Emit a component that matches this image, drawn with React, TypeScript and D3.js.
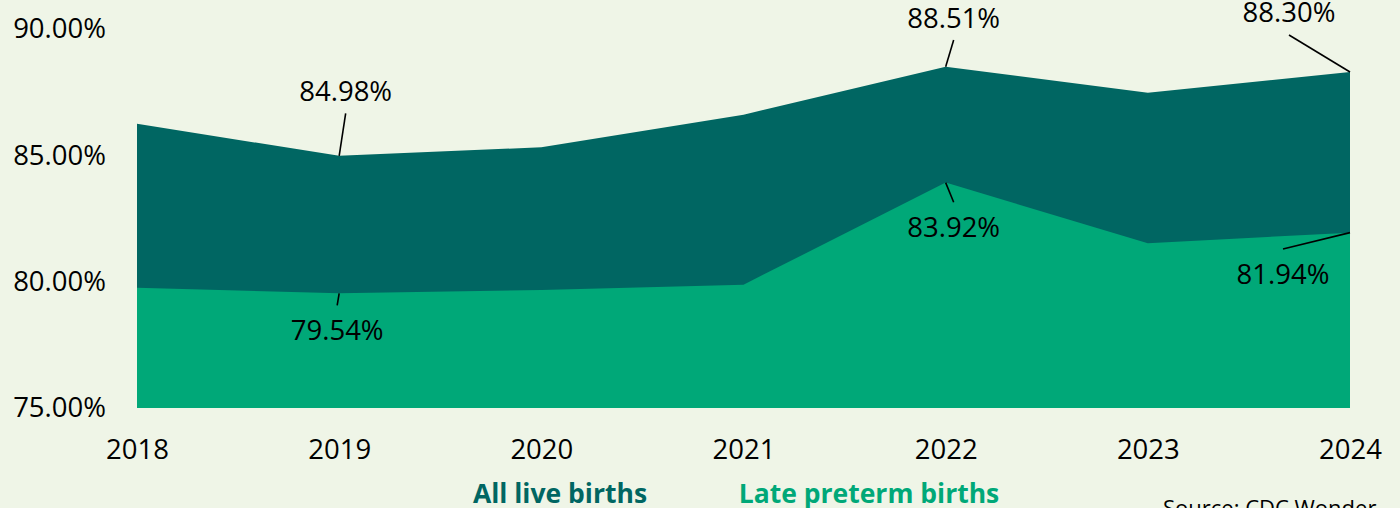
import { useEffect, useRef } from 'react';
import { select, scaleLinear, scalePoint, area, axisLeft, axisBottom, format } from 'd3';

const years = ['2018', '2019', '2020', '2021', '2022', '2023', '2024'];
const allLiveBirths = [86.25, 84.98, 85.32, 86.61, 88.51, 87.48, 88.3];
const latePretermBirths = [79.76, 79.54, 79.67, 79.88, 83.92, 81.52, 81.94];
const yTicks = [75, 80, 85, 90];

// which points get a data label, and where the leader line ends (offset from the point)
const labelSpots = [
  { series: 'all', index: 1, dx: 6.5, dy: -42.5, side: 'above' },
  { series: 'late', index: 1, dx: -2, dy: 12, side: 'below' },
  { series: 'all', index: 4, dx: 8, dy: -26.6, side: 'above' },
  { series: 'late', index: 4, dx: 8, dy: 19.7, side: 'below' },
  { series: 'all', index: 6, dx: -61, dy: -37, side: 'above' },
  { series: 'late', index: 6, dx: -67, dy: 16.4, side: 'below' },
];

const WIDTH = 1400;
const HEIGHT = 508;
const BG = '#eff5e7';
const DARK = '#006662';
const GREEN = '#00a878';
const FONT = '"Open Sans", sans-serif';

const App = () => {
  const svgRef = useRef(null);

  useEffect(() => {
    const svg = select(svgRef.current);

    const xScale = scalePoint().domain(years).range([137, 1350]);
    const yScale = scaleLinear().domain([75, 90]).range([408, 29]);

    const areaGenerator = (values) =>
      area()
        .x((d, i) => xScale(years[i]))
        .y0(yScale(75))
        .y1((d) => yScale(d))(values);

    svg
      .select('.areas')
      .selectAll('path')
      .data([
        { key: 'all', values: allLiveBirths, color: DARK },
        { key: 'late', values: latePretermBirths, color: GREEN },
      ])
      .join('path')
      .attr('fill', (d) => d.color)
      .attr('d', (d) => areaGenerator(d.values));

    const yAxis = axisLeft(yScale)
      .tickValues(yTicks)
      .tickSize(0)
      .tickPadding(31)
      .tickFormat((d) => format('.2f')(d) + '%');
    svg
      .select('.y-axis')
      .attr('transform', `translate(${xScale(years[0])}, 0)`)
      .call(yAxis)
      .call((g) => g.select('.domain').remove())
      .selectAll('text')
      .attr('font-family', FONT)
      .attr('font-size', 27.5)
      .attr('fill', '#000');

    const xAxis = axisBottom(xScale).tickSize(0).tickPadding(31);
    svg
      .select('.x-axis')
      .attr('transform', `translate(0, ${yScale(75)})`)
      .call(xAxis)
      .call((g) => g.select('.domain').remove())
      .selectAll('text')
      .attr('font-family', FONT)
      .attr('font-size', 27.5)
      .attr('fill', '#000');

    const labels = labelSpots.map((s) => {
      const values = s.series === 'all' ? allLiveBirths : latePretermBirths;
      const v = values[s.index];
      const px = xScale(years[s.index]);
      const py = yScale(v);
      return { ...s, v, px, py, ex: px + s.dx, ey: py + s.dy };
    });

    const g = svg.select('.labels');
    g.selectAll('line')
      .data(labels)
      .join('line')
      .attr('x1', (d) => d.px)
      .attr('y1', (d) => d.py)
      .attr('x2', (d) => d.ex)
      .attr('y2', (d) => d.ey)
      .attr('stroke', '#000')
      .attr('stroke-width', 1.6);

    g.selectAll('text')
      .data(labels)
      .join('text')
      .attr('x', (d) => d.ex)
      .attr('y', (d) => (d.side === 'above' ? d.ey - 12.5 : d.ey + 35))
      .attr('text-anchor', 'middle')
      .attr('font-family', FONT)
      .attr('font-size', 27.5)
      .attr('fill', '#000')
      .text((d) => format('.2f')(d.v) + '%');
  }, []);

  return (
    <svg
      ref={svgRef}
      width={WIDTH}
      height={HEIGHT}
      style={{ position: 'fixed', top: 0, left: 0, display: 'block' }}
    >
      <rect width={WIDTH} height={HEIGHT} fill={BG} />
      <g className='areas' />
      <g className='y-axis' />
      <g className='x-axis' />
      <g className='labels' />
      <text x={560} y={502.5} textAnchor='middle' fontFamily={FONT} fontWeight='bold' fontSize={26.5} fill={DARK}>
        All live births
      </text>
      <text x={869} y={502.5} textAnchor='middle' fontFamily={FONT} fontWeight='bold' fontSize={26.5} fill={GREEN}>
        Late preterm births
      </text>
      <text x={1163} y={515.5} fontFamily={FONT} fontSize={22} fill='#000'>
        Source: CDC Wonder
      </text>
    </svg>
  );
};

export default App;
